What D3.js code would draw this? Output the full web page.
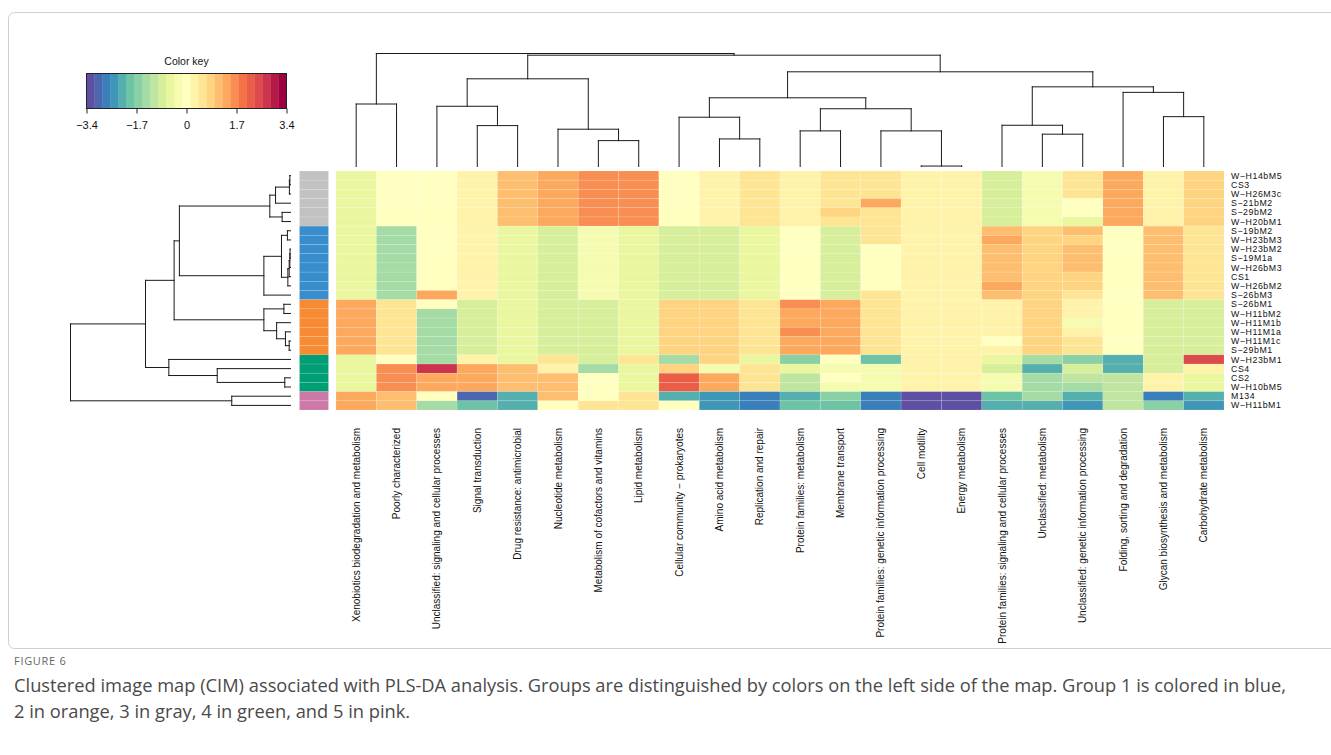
<!DOCTYPE html>
<html>
<head>
<meta charset="utf-8">
<script src="https://cdn.jsdelivr.net/npm/d3@7/dist/d3.min.js"></script>
<style>
  html, body { margin: 0; padding: 0; background: #fff; }
  svg { display: block; }
</style>
</head>
<body>
<svg id="fig" width="1331" height="755"></svg>
<script>
// ---- data -------------------------------------------------------------
const colLabels = [
  "Xenobiotics biodegradation and metabolism", "Poorly characterized",
  "Unclassified: signaling and cellular processes", "Signal transduction",
  "Drug resistance: antimicrobial", "Nucleotide metabolism",
  "Metabolism of cofactors and vitamins", "Lipid metabolism",
  "Cellular community \u2212 prokaryotes", "Amino acid metabolism",
  "Replication and repair", "Protein families: metabolism",
  "Membrane transport", "Protein families: genetic information processing",
  "Cell motility", "Energy metabolism",
  "Protein families: signaling and cellular processes", "Unclassified: metabolism",
  "Unclassified: genetic information processing", "Folding, sorting and degradation",
  "Glycan biosynthesis and metabolism", "Carbohydrate metabolism"
];

const rowLabels = [
  "W\u2212H14bM5", "CS3", "W\u2212H26M3c", "S\u221221bM2", "S\u221229bM2", "W\u2212H20bM1",
  "S\u221219bM2", "W\u2212H23bM3", "W\u2212H23bM2", "S\u221219M1a", "W\u2212H26bM3", "CS1",
  "W\u2212H26bM2", "S\u221226bM3", "S\u221226bM1", "W\u2212H11bM2", "W\u2212H11M1b", "W\u2212H11M1a",
  "W\u2212H11M1c", "S\u221229bM1", "W\u2212H23bM1", "CS4", "CS2", "W\u2212H10bM5", "M134", "W\u2212H11bM1"
];

// group of each sample (1 blue, 2 orange, 3 gray, 4 green, 5 pink)
const rowGroups = [3,3,3,3,3,3, 1,1,1,1,1,1,1,1, 2,2,2,2,2,2, 4,4,4,4, 5,5];
const groupColors = ["#388ECC", "#F68B33", "#C2C2C2", "#009E73", "#CC79A7"];

// scaled values, one array per sample (columns in the order of colLabels)
const values = [
  [-0.54,0,0,0.27,1.09,1.36,1.63,1.63,0,0.27,0.54,0.27,0.54,0.54,0.27,0.27,-0.82,-0.27,0.54,1.36,0.27,0.82],
  [-0.54,0,0,0.27,1.09,1.36,1.63,1.63,0,0.27,0.54,0.27,0.54,0.54,0.27,0.27,-0.82,-0.27,0.54,1.36,0.27,0.82],
  [-0.54,0,0,0.27,1.09,1.36,1.63,1.63,0,0.27,0.54,0.27,0.54,0.54,0.27,0.27,-0.82,-0.27,0.54,1.36,0.27,0.82],
  [-0.54,0,0,0.27,1.09,1.36,1.63,1.63,0,0.27,0.54,0.27,0.54,1.36,0.27,0.27,-0.82,-0.27,0,1.36,0.27,0.82],
  [-0.54,0,0,0.27,1.09,1.36,1.63,1.63,0,0.27,0.54,0.27,0.82,0.54,0.27,0.27,-0.82,-0.27,0,1.36,0.27,0.82],
  [-0.54,0,0,0.27,1.09,1.36,1.63,1.63,0,0.27,0.54,0.27,0.54,0.54,0.27,0.27,-0.82,-0.27,-0.54,1.36,0.27,0.82],
  [-0.54,-1.36,0,0.27,-0.54,-0.82,-0.27,-0.54,-0.82,-0.82,-0.54,0,-0.82,0.54,0.27,0.27,1.09,0.82,1.09,0,1.09,0.54],
  [-0.54,-1.36,0,0.27,-0.54,-0.82,-0.27,-0.54,-0.82,-0.82,-0.54,0,-0.82,0.54,0.27,0.27,1.36,0.82,0.82,0,1.09,0.54],
  [-0.54,-1.36,0,0.27,-0.54,-0.82,-0.27,-0.54,-0.82,-0.82,-0.54,0,-0.82,0,0.27,0.27,1.09,0.82,1.09,0,1.09,0.54],
  [-0.54,-1.36,0,0.27,-0.54,-0.82,-0.27,-0.54,-0.82,-0.82,-0.54,0,-0.82,0,0.27,0.27,1.09,0.82,1.09,0,1.09,0.54],
  [-0.54,-1.36,0,0.27,-0.54,-0.82,-0.27,-0.54,-0.82,-0.82,-0.54,0,-0.82,0,0.27,0.27,1.09,0.82,1.09,0,1.09,0.54],
  [-0.54,-1.36,0,0.27,-0.54,-0.82,-0.27,-0.54,-0.82,-0.82,-0.54,0,-0.82,0,0.27,0.27,1.09,0.82,0.82,0,1.09,0.54],
  [-0.54,-1.36,0,0.27,-0.54,-0.82,-0.27,-0.54,-0.82,-0.82,-0.54,0,-0.82,0,0.27,0.27,1.36,0.82,0.82,0,1.09,0.54],
  [-0.54,-1.36,1.36,0.27,-0.54,-0.82,-0.27,-0.54,-0.82,-0.82,-0.54,0,-0.82,0.54,0.27,0.27,1.09,0.82,0.54,0,1.09,0.54],
  [1.36,0.54,0,-0.82,-0.54,-0.82,-0.82,-0.54,0.82,0.82,0.54,1.63,1.36,0.54,0.27,0.27,0.27,0.82,0.27,0,-0.82,-0.82],
  [1.36,0.54,-1.36,-0.82,-0.54,-0.82,-0.82,-0.54,0.82,0.82,0.54,1.36,1.36,0.54,0.27,0.27,0.27,0.82,0.27,0,-0.82,-0.82],
  [1.36,0.54,-1.36,-0.82,-0.54,-0.82,-0.82,-0.54,0.82,0.82,0.54,1.36,1.36,0.54,0.27,0.27,0.27,0.82,-0.27,0,-0.82,-0.82],
  [1.36,0.54,-1.36,-0.82,-0.54,-0.82,-0.82,-0.54,0.82,0.82,0.54,1.63,1.36,0.54,0.27,0.27,0.27,0.82,0.27,0,-0.82,-0.82],
  [1.36,0.54,-1.36,-0.82,-0.54,-0.82,-0.82,-0.54,0.82,0.82,0.54,1.36,1.36,0.54,0.27,0.27,0,0.82,0.54,0,-0.82,-0.82],
  [1.36,0.54,-1.36,-0.82,-0.54,-0.82,-0.82,-0.54,0.82,0.82,0.54,1.36,1.36,0.54,0.27,0.27,0.27,0.82,0.54,0,-0.82,-0.82],
  [-0.54,0,-1.36,0.27,-0.54,0.54,-0.82,0.54,-1.36,0.82,-0.54,-1.63,0,-1.90,0.27,0.27,-0.54,-1.36,-1.63,-2.18,-0.82,2.45],
  [-0.54,1.63,2.72,1.36,1.09,0.27,-1.36,-0.54,0.82,-0.27,0.54,-0.54,-0.27,-0.27,0.27,0.27,-0.82,-2.18,-0.82,-2.18,-0.82,0.27],
  [-0.54,1.63,1.36,1.36,1.09,1.09,0,-0.54,2.18,1.36,0.54,-1.09,0,-0.27,0.27,0.27,-0.27,-1.36,-1.09,-1.09,0.27,-0.54],
  [-0.54,1.63,1.36,1.36,1.09,1.09,0,-0.54,2.18,1.36,0.54,-1.09,-0.27,-0.27,0.27,0.27,-0.27,-1.36,-1.36,-1.09,0.27,-0.54],
  [1.36,1.09,0,-2.99,-2.18,1.09,0,0.54,-2.18,-2.45,-2.72,-2.18,-1.63,-2.72,-3.26,-3.26,-1.90,-1.36,-2.18,-1.09,-2.72,-2.18],
  [1.36,1.09,-1.36,-1.90,-2.18,0,0.54,0.54,0,-2.45,-2.72,-1.90,-1.90,-2.72,-3.26,-3.26,-2.18,-2.18,-2.45,-1.09,-1.63,-2.45]
];

// colour key
const keyRange = [-3.4, 3.4];
const keyTicks = [-3.4, -1.7, 0, 1.7, 3.4];
const keyBins = 25;
const spectral = ["#5E4FA2","#3288BD","#66C2A5","#ABDDA4","#E6F598","#FFFFBF",
                  "#FEE08B","#FDAE61","#F46D43","#D53E4F","#9E0142"];

// dendrograms: [merge height (relative), left, right]; leaves are indices
const colTree = [1.0,
  [0.553, 0, 1],
  [0.985,
    [0.776,
      [0.533, 2, [0.362, 3, 4]],
      [0.330, 5, [0.229, 6, 7]]],
    [0.838,
      [0.608,
        [0.436, 8, [0.244, 9, 10]],
        [0.511, [0.315, 11, 12], [0.315, 13, [0.004, 14, 15]]]],
      [0.705,
        [0.365, 16, [0.286, 17, 18]],
        [0.656, 19, [0.441, 20, 21]]]]]];

const rowTree = [1.0,
  [0.659,
    [0.529,
      [0.505,
        [0.094, [0.068, [0.005, [0.003, 0, 1], 2], 3], [0.038, 4, 5]],
        [0.121,
          [0.041, [0.014, 6, 7], [0.012, [0.006, [0.003, [0.002, 8, 9], 10], 11], 12]],
          13]],
      [0.121, [0.030, 14, 15], [0.063, 16, [0.023, 17, [0.006, 18, 19]]]]],
    [0.553, 20, [0.333, 21, [0.026, 22, 23]]]],
  [0.267, 24, 25]];

// ---- layout -----------------------------------------------------------
const svg = d3.select("#fig");
const hm = { x0: 336, x1: 1224, y0: 171, y1: 410 };
const plotFont = "Liberation Sans, Arial, sans-serif";

const xCol = d3.scaleBand().domain(d3.range(colLabels.length)).range([hm.x0, hm.x1]);
const yRow = d3.scaleBand().domain(d3.range(rowLabels.length)).range([hm.y0, hm.y1]);

const palette = d3.quantize(d3.piecewise(d3.interpolateRgb, spectral), keyBins);
const color = d3.scaleQuantize().domain(keyRange).range(palette);

// outer frame
svg.append("rect")
  .attr("x", 8.5).attr("y", 12.5).attr("width", 1340).attr("height", 636)
  .attr("rx", 6).attr("fill", "none").attr("stroke", "#cfcfcf").attr("stroke-width", 1);

// ---- heatmap cells ----------------------------------------------------
const cells = [];
values.forEach((row, i) => row.forEach((v, j) => cells.push({ i, j, v })));

svg.append("g").selectAll("rect").data(cells).join("rect")
  .attr("x", d => xCol(d.j))
  .attr("y", d => yRow(d.i))
  .attr("width", xCol.bandwidth())
  .attr("height", yRow.bandwidth())
  .attr("fill", d => color(d.v))
  .attr("stroke", "#ffffff")
  .attr("stroke-opacity", 0.22)
  .attr("stroke-width", 0.6);

// group side bar
svg.append("g").selectAll("rect").data(rowGroups).join("rect")
  .attr("x", 299.5)
  .attr("y", (g, i) => yRow(i))
  .attr("width", 29)
  .attr("height", yRow.bandwidth())
  .attr("fill", g => groupColors[g - 1])
  .attr("stroke", "#ffffff")
  .attr("stroke-opacity", 0.2)
  .attr("stroke-width", 0.6);

// ---- labels -----------------------------------------------------------
svg.append("g").selectAll("text").data(rowLabels).join("text")
  .attr("x", 1231)
  .attr("y", (d, i) => yRow(i) + yRow.bandwidth() / 2)
  .attr("dy", "0.35em")
  .attr("font-family", plotFont)
  .attr("font-size", 8.8)
  .attr("letter-spacing", 0.55)
  .attr("fill", "#111")
  .text(d => d);

svg.append("g").selectAll("text").data(colLabels).join("text")
  .attr("transform", (d, j) => `translate(${xCol(j) + xCol.bandwidth() / 2},428) rotate(-90)`)
  .attr("dy", "0.35em")
  .attr("text-anchor", "end")
  .attr("font-family", plotFont)
  .attr("font-size", 10)
  .attr("fill", "#111")
  .text(d => d);

// ---- dendrograms ------------------------------------------------------
function buildTree(spec) {
  const root = d3.hierarchy(spec, d => Array.isArray(d) ? d.slice(1) : null);
  root.each(n => { n.h = n.children ? n.data[0] : 0; });
  return root;
}

function drawTree(root, leafPos, hScale, vertical) {
  // leaves sit on band centres, each merge sits midway over its children
  root.eachAfter(n => {
    n.p = n.children ? d3.mean(n.children, c => c.p) : leafPos(n.data);
  });
  const segs = [];
  root.each(n => {
    if (!n.children) return;
    const hp = hScale(n.h);
    n.children.forEach(c => segs.push([c.p, hScale(c.h), c.p, hp]));
    const ps = n.children.map(c => c.p);
    segs.push([d3.min(ps), hp, d3.max(ps), hp]);
  });
  const g = svg.append("g")
    .attr("stroke", "#1a1a1a").attr("stroke-width", 1).attr("fill", "none")
    .attr("stroke-linecap", "square");
  g.selectAll("line").data(segs).join("line")
    .attr(vertical ? "x1" : "y1", s => s[0])
    .attr(vertical ? "y1" : "x1", s => s[1])
    .attr(vertical ? "x2" : "y2", s => s[2])
    .attr(vertical ? "y2" : "x2", s => s[3]);
}

// column dendrogram: leaves at bottom, height grows upward
drawTree(buildTree(colTree),
  j => xCol(j) + xCol.bandwidth() / 2,
  d3.scaleLinear().domain([0, 1]).range([166.5, 53.5]),
  true);

// row dendrogram: leaves at right, height grows leftward
drawTree(buildTree(rowTree),
  i => yRow(i) + yRow.bandwidth() / 2,
  d3.scaleLinear().domain([0, 1]).range([290.5, 70.5]),
  false);

// ---- colour key -------------------------------------------------------
const key = { x0: 86.5, x1: 286.5, y0: 73.5, y1: 108.5 };
const kx = d3.scaleLinear().domain(keyRange).range([key.x0, key.x1]);
const binW = (keyRange[1] - keyRange[0]) / keyBins;
const keyG = svg.append("g");
keyG.selectAll("rect.bin").data(palette).join("rect")
  .attr("class", "bin")
  .attr("x", (c, k) => kx(keyRange[0] + k * binW))
  .attr("y", key.y0)
  .attr("width", (c, k) => kx(keyRange[0] + (k + 1) * binW) - kx(keyRange[0] + k * binW) + 0.3)
  .attr("height", key.y1 - key.y0)
  .attr("fill", c => c);
keyG.append("rect")
  .attr("x", key.x0).attr("y", key.y0)
  .attr("width", key.x1 - key.x0).attr("height", key.y1 - key.y0)
  .attr("fill", "none").attr("stroke", "#222").attr("stroke-width", 1);

const keyAxis = d3.axisBottom(kx).tickValues(keyTicks).tickSize(5).tickPadding(8)
  .tickFormat(d => d === 0 ? "0" : d3.format(".1f")(d).replace("-", "\u2212"));
keyG.append("g")
  .attr("transform", `translate(0,${key.y1})`)
  .call(keyAxis)
  .call(g => g.select(".domain").remove())
  .call(g => g.selectAll("line").attr("stroke", "#222"))
  .call(g => g.selectAll("text")
    .attr("font-family", plotFont)
    .attr("font-size", 11).attr("fill", "#111"));

keyG.append("text")
  .attr("x", (key.x0 + key.x1) / 2).attr("y", 65)
  .attr("text-anchor", "middle")
  .attr("font-family", plotFont)
  .attr("font-size", 10.5).attr("fill", "#111")
  .text("Color key");

// ---- caption ----------------------------------------------------------
svg.append("text")
  .attr("x", 14).attr("y", 665)
  .attr("font-family", "Open Sans, sans-serif")
  .attr("font-size", 11).attr("letter-spacing", 0.7)
  .attr("fill", "#666")
  .text("FIGURE 6");

const captionLines = [
  "Clustered image map (CIM) associated with PLS-DA analysis. Groups are distinguished by colors on the left side of the map. Group 1 is colored in blue,",
  "2 in orange, 3 in gray, 4 in green, and 5 in pink."
];
svg.append("g").selectAll("text").data(captionLines).join("text")
  .attr("x", 14)
  .attr("y", (d, k) => 692 + k * 26)
  .attr("font-family", "Open Sans, sans-serif")
  .attr("font-size", 18.3)
  .attr("fill", "#4a4a4a")
  .text(d => d);
</script>
</body>
</html>
